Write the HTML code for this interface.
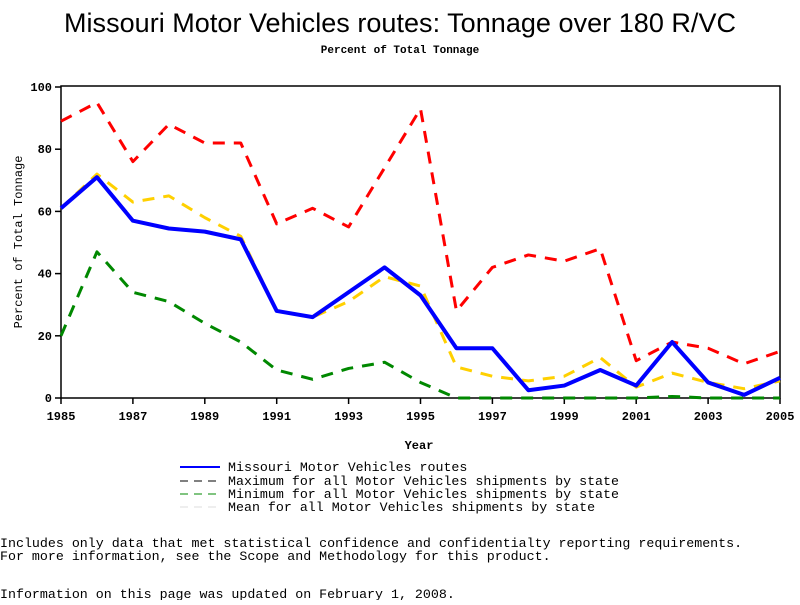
<!DOCTYPE html>
<html><head><meta charset="utf-8"><style>
body{margin:0;background:#fff;width:800px;height:600px;overflow:hidden}
svg text{font-family:"Liberation Mono",monospace}
</style></head><body>
<svg width="800" height="600">
<text x="400" y="32" text-anchor="middle" textLength="672" style="font-family:'Liberation Sans',sans-serif;font-size:27px">Missouri Motor Vehicles routes: Tonnage over 180 R/VC</text>
<text x="400" y="53" text-anchor="middle" font-size="11" font-weight="bold">Percent of Total Tonnage</text>
<rect x="61" y="86" width="719" height="312" fill="none" stroke="#000" stroke-width="1.5"/>
<g id="axes"></g>
<g id="series"></g>
<text x="419" y="449" text-anchor="middle" font-size="12" font-weight="bold">Year</text>
<text transform="translate(22,242) rotate(-90)" text-anchor="middle" font-size="12">Percent of Total Tonnage</text>
<g font-size="13.3">
<line x1="180" y1="467" x2="220" y2="467" stroke="#00f" stroke-width="2"/>
<text x="228" y="471">Missouri Motor Vehicles routes</text>
<line x1="180" y1="481" x2="220" y2="481" stroke="#000" stroke-dasharray="8,6"/>
<text x="228" y="485">Maximum for all Motor Vehicles shipments by state</text>
<line x1="180" y1="494" x2="220" y2="494" stroke="#080" stroke-dasharray="8,6"/>
<text x="228" y="498">Minimum for all Motor Vehicles shipments by state</text>
<line x1="180" y1="507" x2="220" y2="507" stroke="#ddd" stroke-dasharray="8,6"/>
<text x="228" y="511">Mean for all Motor Vehicles shipments by state</text>
</g>
<g font-size="13.3">
<text x="0" y="547">Includes only data that met statistical confidence and confidentialty reporting requirements.</text>
<text x="0" y="560">For more information, see the Scope and Methodology for this product.</text>
<text x="0" y="598">Information on this page was updated on February 1, 2008.</text>
</g>
</svg>
<script>
const years=[1985,1986,1987,1988,1989,1990,1991,1992,1993,1994,1995,1996,1997,1998,1999,2000,2001,2002,2003,2004,2005];
const maxVals=[89,95,76,88,82,82,56,61,55,74,93,28,42,46,44,48,12,18,16,11,15];
const missouriVals=[61,71,57,54.5,53.5,51,28,26,34,42,33,16,16,2.5,4,9,4,18,5,1,6.5];
const minVals=[20,47,34,31,24,18,9,6,9.5,11.5,5,0,0,0,0,0,0,0.5,0,0,0];
const meanVals=[61,72,63,65,58,52,28,26,31,39,36,10,7,5.5,7,13,3.5,8,5,3,5.5];
const yTicks=[0,20,40,60,80,100];
const xTicks=[1985,1987,1989,1991,1993,1995,1997,1999,2001,2003,2005];
const NS="http://www.w3.org/2000/svg";
const xs=y=>61+(y-1985)*(719/20);
const ys=v=>398-v*3.11;
const axes=document.getElementById('axes'),ser=document.getElementById('series');
function mk(tag,at,parent){const e=document.createElementNS(NS,tag);for(const k in at)e.setAttribute(k,at[k]);parent.appendChild(e);return e;}
yTicks.forEach(t=>{
const l=mk('line',{x1:55,x2:61,y1:ys(t),y2:ys(t),stroke:'#000','stroke-width':1.5},axes);


const tx=mk('text',{x:52,y:ys(t)+4,'text-anchor':'end','font-size':12,'font-weight':'bold'},axes);tx.textContent=t;


});
xTicks.forEach(t=>{
const l=mk('line',{x1:xs(t),x2:xs(t),y1:398,y2:404,stroke:'#000','stroke-width':1.5},axes);


const tx=mk('text',{x:xs(t),y:420,'text-anchor':'middle','font-size':12,'font-weight':'bold'},axes);tx.textContent=t;


});
function line(vals,color,w,dash,name){
const p=mk('polyline',{points:vals.map((v,i)=>xs(years[i])+','+ys(v)).join(' '),fill:'none',stroke:color,'stroke-width':w,'stroke-dasharray':dash,'stroke-linejoin':'round'},ser);


}
line(maxVals,'#f00',3,'12,9','max-line');
line(minVals,'#080',3,'12,9','min-line');
line(meanVals,'#ffd000',3,'12,9','mean-line');
line(missouriVals,'#00f',4,'none','missouri-line');
</script>
</body></html>
